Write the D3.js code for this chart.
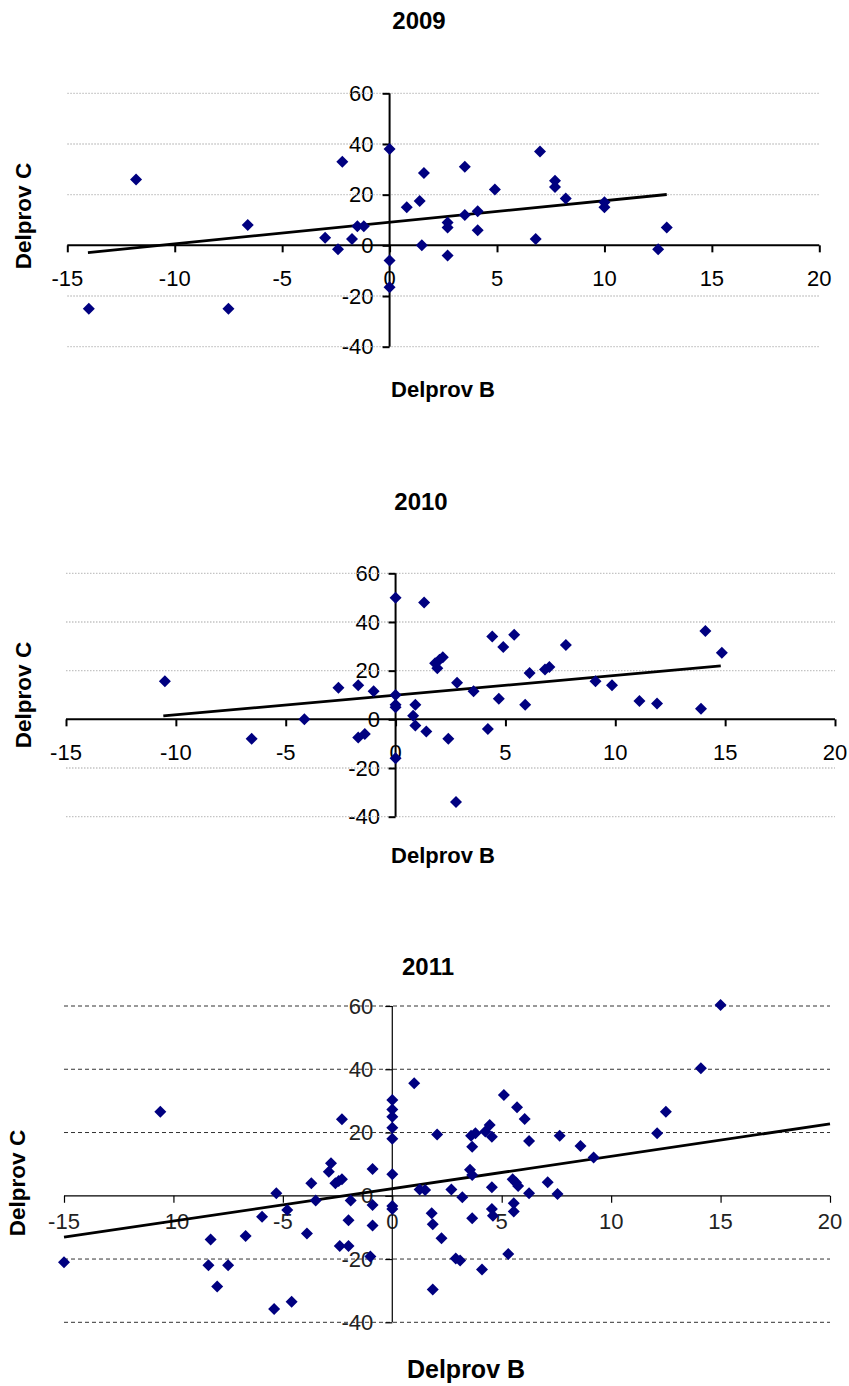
<!DOCTYPE html>
<html><head><meta charset="utf-8">
<script src="https://cdn.jsdelivr.net/npm/d3@7"></script>
<style>
html,body{margin:0;padding:0;background:#fff;}
svg{display:block;font-family:"Liberation Sans",Arial,sans-serif;}
</style></head>
<body>
<svg id="chart" width="849" height="1386"></svg>
<script>
// ---------- DATA ----------
const years = ["2009", "2010", "2011"];
const xTicks = [-15, -10, -5, 0, 5, 10, 15, 20];
const yTicks = [-40, -20, 0, 20, 40, 60];
const xTitle = "Delprov B";
const yTitle = "Delprov C";

const x2009 = [-14.0, -11.8, -7.5, -6.6, -3.0, -2.4, -2.2, -1.75, -1.5, -1.2, 0, 0, 0, 0.8, 1.4, 1.6, 1.5, 2.7, 2.7, 2.7, 3.5, 3.5, 4.1, 4.1, 4.9, 6.8, 7.0, 7.7, 7.7, 8.2, 10.0, 10.0, 12.5, 12.9];
const y2009 = [-25, 26, -25, 8, 3, -1.5, 33, 2.5, 7.5, 7.5, 38, -6, -16.5, 15, 17.5, 28.5, 0, 9, 7, -4, 31, 12, 13.5, 6, 22, 2.5, 37, 25.5, 23, 18.5, 17, 15, -1.5, 7];

const x2010 = [-10.5, -6.55, -4.15, -2.6, -1.7, -1.7, -1.4, -1.0, 0, 0, 0, 0, 0, 0.9, 0.8, 0.9, 1.4, 1.3, 1.8, 1.9, 2.0, 2.15, 2.4, 2.75, 2.8, 3.55, 4.2, 4.4, 4.7, 4.9, 5.4, 5.9, 6.1, 6.8, 7.0, 7.75, 9.1, 9.85, 11.1, 11.9, 13.9, 14.1, 14.85];
const y2010 = [15.7, -8, 0, 13, 14, -7.5, -6, 11.5, 50, 10, 6, 5, -16, 6, 1.5, -2.5, -5, 48, 23, 21, 24.5, 25.5, -8, -34, 15, 11.5, -4, 34, 8.5, 29.7, 34.8, 6, 19, 20.5, 21.5, 30.5, 15.7, 14, 7.5, 6.5, 4.4, 36.3, 27.4];

const x2011 = [-15, -10.6, -8.3, -8.4, -8.0, -7.5, -6.7, -5.95, -5.3, -5.4, -4.8, -4.6, -3.9, -3.7, -3.5, -2.8, -2.9, -2.6, -2.45, -2.3, -2.3, -2.4, -2.0, -1.9, -2.0, -0.9, -0.9, -0.9, -1.0, 0, 0, 0, 0, 0, 0, 0, 0, 1.0, 1.25, 1.5, 2.05, 1.8, 1.85, 2.25, 1.85, 2.7, 3.2, 2.9, 3.1, 3.55, 3.65, 3.65, 3.6, 3.8, 3.65, 4.1, 4.25, 4.45, 4.55, 4.55, 4.55, 4.6, 5.1, 5.3, 5.5, 5.65, 5.75, 5.55, 5.55, 5.7, 6.05, 6.25, 6.25, 7.1, 7.55, 7.65, 8.6, 9.2, 12.1, 12.5, 14.1, 15.0];
const y2011 = [-21, 26.6, -13.8, -22, -28.7, -22, -12.7, -6.6, 0.8, -35.8, -4.5, -33.5, -11.9, 4, -1.5, 10.3, 7.6, 4, 4.7, 5.2, 24.2, -15.9, -15.9, -1.5, -7.7, 8.5, -2.9, -9.4, -19.2, 30.3, 27.3, 25, 21.5, 18, 6.8, -3.2, -4.2, 35.6, 2, 1.8, 19.4, -5.5, -9, -13.4, -29.6, 2, -0.5, -19.8, -20.5, 8.2, 6.6, 15.5, 19, 19.8, -7.1, -23.3, 20.3, 22.4, 18.7, 2.7, -4.2, -6.3, 31.9, -18.4, 5.2, 4.2, 3.1, -2.4, -5, 28, 24.3, 17.3, 0.8, 4.3, 0.6, 19, 15.7, 12.1, 19.8, 26.6, 40.3, 60.3];

// linear trend lines (slope, intercept, x-start, x-end)
const trendSlope = [0.85, 0.81, 1.023];
const trendIntercept = [9.1, 9.95, 2.25];
const trendFrom = [-14.04, -10.57, -15];
const trendTo = [12.9, 14.8, 20];

// ---------- LAYOUT ----------
const panels = [
  {xs: x2009, ys: y2009, x0: 67.3, x1: 819.3, yTop: 93.3, yBot: 346.7,
   titleX: 419, titleY: 29, xTitleX: 443, xTitleY: 397, xTitleSize: 22,
   yTitleX: 31, yTitleY: 216, ylOff: 16, xlOff: 33, style: "light"},
  {xs: x2010, ys: y2010, x0: 66, x1: 835, yTop: 573.3, yBot: 816.7,
   titleX: 421, titleY: 510, xTitleX: 443, xTitleY: 863, xTitleSize: 22,
   yTitleX: 31, yTitleY: 695, ylOff: 15.5, xlOff: 33, style: "light"},
  {xs: x2011, ys: y2011, x0: 64, x1: 830, yTop: 1006, yBot: 1322.3,
   titleX: 428, titleY: 975, xTitleX: 466, xTitleY: 1378, xTitleSize: 25,
   yTitleX: 25, yTitleY: 1183, ylOff: 19, xlOff: 26, style: "dark"}
];

const svg = d3.select("#chart");
const diamond = "M0,-6L6,0L0,6L-6,0Z";

panels.forEach((p, i) => {
  const x = d3.scaleLinear().domain([-15, 20]).range([p.x0, p.x1]);
  const y = d3.scaleLinear().domain([-40, 60]).range([p.yBot, p.yTop]);
  const g = svg.append("g");
  const dark = p.style === "dark";
  const textFill = dark ? "#222" : "#000";

  // title
  svg.append("text").attr("x", p.titleX).attr("y", p.titleY)
    .attr("text-anchor", "middle").attr("font-size", 24).attr("font-weight", "bold")
    .text(years[i]);
  // axis titles
  svg.append("text").attr("x", p.xTitleX).attr("y", p.xTitleY)
    .attr("text-anchor", "middle").attr("font-size", p.xTitleSize).attr("font-weight", "bold")
    .text(xTitle);
  svg.append("text").attr("transform", `translate(${p.yTitleX},${p.yTitleY}) rotate(-90)`)
    .attr("text-anchor", "middle").attr("font-size", 22.5).attr("font-weight", "bold")
    .text(yTitle);

  const x0v = x(0), y0v = y(0);

  // tick labels (drawn first so gridlines can pass over them in the dark style)
  const labels = g.append("g").attr("font-size", 22).attr("fill", textFill);
  labels.selectAll(".yl").data(yTicks).join("text")
    .attr("x", x0v - p.ylOff).attr("y", d => y(d)).attr("dy", "0.35em")
    .attr("text-anchor", "end").text(d => d);
  labels.selectAll(".xl").data(xTicks).join("text")
    .attr("x", d => x(d)).attr("y", y0v + p.xlOff).attr("dy", "0.35em")
    .attr("text-anchor", "middle").text(d => d);

  // gridlines
  g.append("g").selectAll("line").data(yTicks.filter(d => d !== 0)).join("line")
    .attr("x1", p.x0).attr("x2", p.x1).attr("y1", d => y(d)).attr("y2", d => y(d))
    .attr("stroke", dark ? "#333" : "#c4c4c4")
    .attr("stroke-width", dark ? 1 : 1.3)
    .attr("stroke-dasharray", dark ? "4,3" : "1.5,1.5");

  // axes
  const aw = dark ? 1.2 : 2;
  const yAxis = d3.axisLeft(y).tickValues(yTicks).tickSize(7).tickFormat("");
  const xAxis = d3.axisBottom(x).tickValues(xTicks).tickSize(7).tickFormat("");
  const ya = g.append("g").attr("transform", `translate(${x0v},0)`).call(yAxis);
  const xa = g.append("g").attr("transform", `translate(0,${y0v})`).call(xAxis);
  [ya, xa].forEach(a => {
    a.select(".domain").attr("stroke", "#000").attr("stroke-width", aw);
    a.selectAll(".tick line").attr("stroke", "#000").attr("stroke-width", aw);
  });
  xa.select(".domain").attr("d", `M${p.x0},0H${p.x1}`);
  ya.select(".domain").attr("d", `M0,${p.yBot}V${p.yTop}`);

  // trend line
  const tx = [trendFrom[i], trendTo[i]];
  g.append("path")
    .attr("d", d3.line().x(d => x(d)).y(d => y(trendSlope[i] * d + trendIntercept[i]))(tx))
    .attr("fill", "none").attr("stroke", "#000").attr("stroke-width", 2.8);

  // points
  g.append("g").selectAll("path").data(p.xs.map((v, k) => [v, p.ys[k]])).join("path")
    .attr("d", diamond)
    .attr("transform", d => `translate(${x(d[0])},${y(d[1])})`)
    .attr("fill", "#000080");
});
</script>
</body></html>
